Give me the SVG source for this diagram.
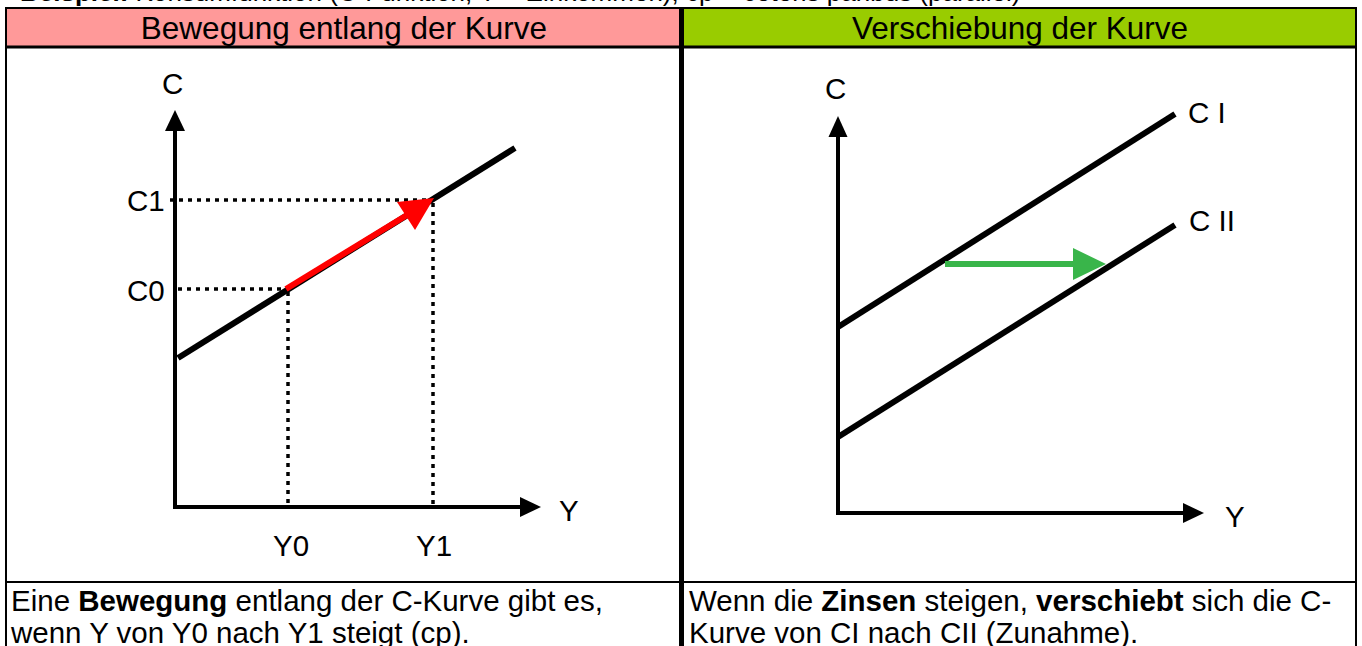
<svg xmlns="http://www.w3.org/2000/svg" width="1362" height="646" viewBox="0 0 1362 646">
<style>
text{font-family:"Liberation Sans",Arial,sans-serif;fill:#000}
.hd{font-size:31.5px;text-anchor:middle}
.lbl{font-size:29.5px}
.body{font-size:29.5px}
.grid{stroke:#000;fill:none}
.curve{stroke:#000;stroke-width:6;fill:none}
.axis{stroke:#000;stroke-width:4;fill:none}
.dot{stroke:#000;stroke-width:3.5;stroke-dasharray:4 5;fill:none}
</style>
<defs>
<clipPath id="topclip"><rect x="0" y="0" width="1362" height="8"/></clipPath>
</defs>
<rect x="0" y="0" width="1362" height="646" fill="#fff"/>
<g id="title" clip-path="url(#topclip)">
<text x="20" y="1" style="font-size:26px"><tspan font-weight="bold">Beispiel:</tspan> Konsumfunktion (C-Funktion, Y = Einkommen), cp = ceteris paribus (parallel)</text>
</g>
<g id="table">
<rect x="7" y="9" width="673" height="37" fill="#FF9999"/>
<rect x="684" y="9" width="671" height="37" fill="#99CC00"/>
<line class="grid" x1="5" y1="8" x2="1357" y2="8" stroke-width="2"/>
<line class="grid" x1="5" y1="47" x2="1357" y2="47" stroke-width="3"/>
<line class="grid" x1="5" y1="582" x2="1357" y2="582" stroke-width="2"/>
<line class="grid" x1="6" y1="7" x2="6" y2="646" stroke-width="2"/>
<line class="grid" x1="1356" y1="7" x2="1356" y2="646" stroke-width="2"/>
<line class="grid" x1="681.5" y1="7" x2="681.5" y2="646" stroke-width="5"/>
</g>
<g id="header-left"><text class="hd" x="344" y="39">Bewegung entlang der Kurve</text></g>
<g id="header-right"><text class="hd" x="1020" y="39">Verschiebung der Kurve</text></g>
<g id="graph-left">
<line class="axis" x1="175" y1="128" x2="175" y2="509"/>
<polygon points="175,110 165,131 185,131"/>
<line class="axis" x1="173" y1="507" x2="522" y2="507"/>
<polygon points="541,507 520,497 520,517"/>
<line class="curve" x1="178" y1="358" x2="515" y2="148"/>
<line class="dot" x1="170" y1="200" x2="433" y2="200"/>
<line class="dot" x1="433" y1="203" x2="433" y2="507"/>
<line class="dot" x1="178" y1="289" x2="288" y2="289"/>
<line class="dot" x1="288" y1="292" x2="288" y2="507"/>
<text class="lbl" x="162" y="94">C</text>
<text class="lbl" x="127" y="211">C1</text>
<text class="lbl" x="127" y="301">C0</text>
<text class="lbl" x="273" y="556">Y0</text>
<text class="lbl" x="416" y="556">Y1</text>
<text class="lbl" x="559" y="521">Y</text>
</g>
<g id="graph-right">
<line class="axis" x1="838" y1="134" x2="838" y2="515"/>
<polygon points="838,116 828.5,137 847.5,137"/>
<line class="axis" x1="836" y1="513" x2="1185" y2="513"/>
<polygon points="1204,513 1183,503 1183,523"/>
<line class="curve" x1="838" y1="327" x2="1175" y2="114"/>
<line class="curve" x1="838" y1="437" x2="1175" y2="225"/>
<text class="lbl" x="825" y="99">C</text>
<text class="lbl" x="1188" y="123">C I</text>
<text class="lbl" x="1189" y="231">C II</text>
<text class="lbl" x="1225" y="527">Y</text>
</g>
<g id="connectors">
<line x1="286" y1="289" x2="412" y2="212" stroke="#FF0000" stroke-width="6"/>
<polygon points="434,198 397,202 415,230" fill="#FF0000"/>
<line x1="945" y1="264" x2="1076" y2="264" stroke="#39B54A" stroke-width="6"/>
<polygon points="1106,264 1073,248 1073,280" fill="#39B54A"/>
</g>
<g id="text-left">
<text class="body" x="11" y="611">Eine <tspan font-weight="bold">Bewegung</tspan> entlang der C-Kurve gibt es,</text>
<text class="body" x="11" y="643">wenn Y von Y0 nach Y1 steigt (cp).</text>
</g>
<g id="text-right">
<text class="body" x="689" y="611">Wenn die <tspan font-weight="bold">Zinsen</tspan> steigen, <tspan font-weight="bold">verschiebt</tspan> sich die C-</text>
<text class="body" x="689" y="643">Kurve von CI nach CII (Zunahme).</text>
</g>
</svg>
